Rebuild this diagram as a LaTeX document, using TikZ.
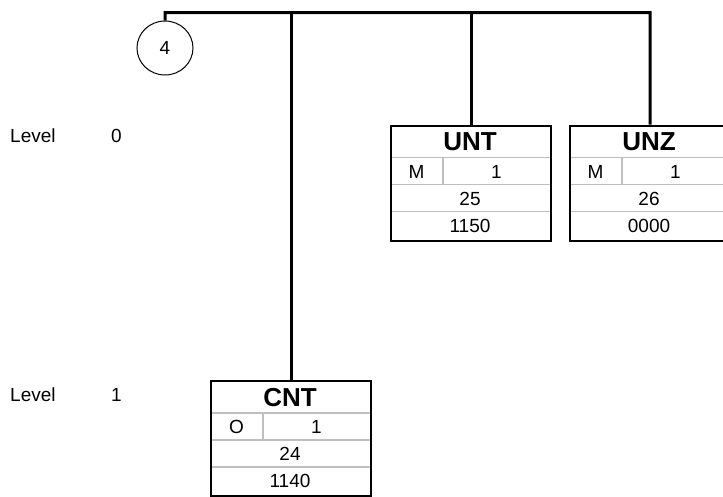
\documentclass[tikz,border=0pt]{standalone}
\usepackage{fontspec}
\setmainfont{Liberation Sans}
\usetikzlibrary{shapes.geometric}
\tikzset{
  x=1pt, y=-1pt,
  bus/.style={line width=3pt, line join=miter},
  boxframe/.style={draw, line width=2.4pt, minimum width=160pt, minimum height=115pt, inner sep=0pt, anchor=north west},
  rowline/.style={draw=black!25, line width=1.6pt},
  celltext/.style={inner sep=0pt, font=\fontsize{19}{22}\selectfont},
  titletext/.style={inner sep=0pt, font=\fontsize{26}{29}\selectfont\bfseries},
  leveltext/.style={inner sep=0pt, anchor=west, font=\fontsize{19}{22}\selectfont},
  circ/.style={draw, ellipse, line width=1pt, minimum width=56pt, minimum height=54pt, inner sep=0pt, font=\fontsize{19}{22}\selectfont}
}
\newcommand\edisegment[8]{%
  \begin{scope}[shift={(#2,#3)}]
    \draw[rowline] (0,33) -- (160,33);
    \draw[rowline] (0,60) -- (160,60);
    \draw[rowline] (0,87) -- (160,87);
    \draw[rowline] (53,33) -- (53,60);
    \node[boxframe] (#1) at (0,0) {};
    \node[titletext] (#1-t) at (80,17.5) {#4};
    \node[celltext] (#1-s) at (26.5,47) {#5};
    \node[celltext] (#1-r) at (106.5,47) {#6};
    \node[celltext] (#1-p) at (80,74) {#7};
    \node[celltext] (#1-n) at (80,101) {#8};
  \end{scope}}
\begin{document}
\begin{tikzpicture}
  \clip (0,0) rectangle (723,496);
  \useasboundingbox (0,0) rectangle (723,496);
  \node[leveltext] (lv0) at (10,136) {Level};
  \node[leveltext] (lv0n) at (111,136) {0};
  \node[leveltext] (lv1) at (10,395) {Level};
  \node[leveltext] (lv1n) at (111,395) {1};
  \node[circ] (c4) at (165,48) {4};
  \edisegment{unt}{390}{124.5}{UNT}{M}{1}{25}{1150}
  \edisegment{unz}{569}{124.5}{UNZ}{M}{1}{26}{0000}
  \edisegment{cnt}{210}{380}{CNT}{O}{1}{24}{1140}
  \coordinate (busL) at (165,12.5);
  \coordinate (busR) at (650,12.5);
  \draw[bus] (c4.north) -- (busL) -- (busR) -- (unz.north);
  \draw[bus] (cnt.north |- busL) -- (cnt.north);
  \draw[bus] (unt.north |- busL) -- (unt.north);
\end{tikzpicture}
\end{document}
